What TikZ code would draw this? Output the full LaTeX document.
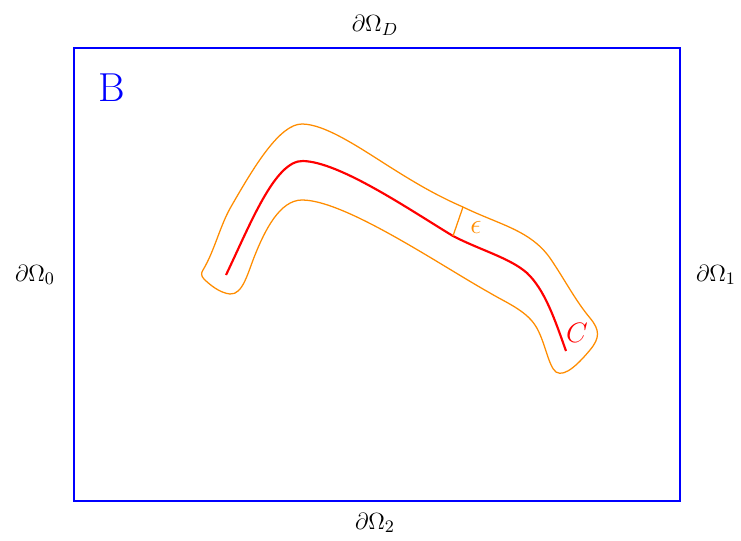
\documentclass[tikz,border=0pt]{standalone}
\begin{document}
\begin{tikzpicture}[x=0.018cm,y=-0.018cm,
  boundlabel/.style={inner sep=0pt,font=\fontsize{12.8}{15}\selectfont},
  tube/.style={draw=tubeorange,line width=0.65pt},
  curveC/.style={draw=red,line width=1.1pt}]
\definecolor{tubeorange}{RGB}{255,140,0}
\useasboundingbox (0,0) rectangle (741,541);
% domain box
\draw[blue,line width=1.4pt] (74,48) rectangle (680,501);
\node[boundlabel] (top) at (375,25) {$\partial\Omega_D$};
\node[boundlabel] (bot) at (375,523) {$\partial\Omega_2$};
\node[boundlabel] (lft) at (35,275) {$\partial\Omega_0$};
\node[boundlabel] (rgt) at (716,275) {$\partial\Omega_1$};
\node[blue,inner sep=0pt,font=\huge] (B) at (112,88) {B};
% tube
\draw[tube] (203,270)
  .. controls (215,250) and (220,225) .. (232,205)
  .. controls (255,165) and (280,124) .. (302,124)
  .. controls (325,124) and (360,148) .. (390,167)
  .. controls (420,186) and (440,197) .. (463,207)
  .. controls (500,225) and (530,230) .. (550,258)
  .. controls (565,280) and (575,300) .. (590,318)
  .. controls (600,330) and (600,338) .. (590,350)
  .. controls (580,362) and (565,378) .. (556,372)
  .. controls (548,366) and (545,340) .. (535,325)
  .. controls (525,310) and (505,302) .. (490,293)
  .. controls (440,265) and (345,200) .. (302,200)
  .. controls (280,200) and (265,230) .. (255,255)
  .. controls (248,272) and (243,295) .. (230,294)
  .. controls (220,293) and (210,285) .. (204,279)
  .. controls (201,276) and (201,273) .. (203,270) -- cycle;
% curve C
\draw[curveC] (226,275)
  .. controls (250,225) and (275,160) .. (303,161)
  .. controls (340,162) and (410,210) .. (453,236)
  .. controls (480,250) and (510,258) .. (527,273)
  .. controls (545,290) and (555,320) .. (566,351);
\coordinate (foot) at (453,236);
\coordinate (head) at (463,207);
\draw[tubeorange,line width=0.65pt] (foot) -- (head);
\node[tubeorange,inner sep=0pt,font=\fontsize{13.5}{16}\selectfont] (eps) at (476,227) {$\epsilon$};
\node[red,inner sep=0pt,font=\Large] (C) at (577,333) {$C$};
\end{tikzpicture}
\end{document}
